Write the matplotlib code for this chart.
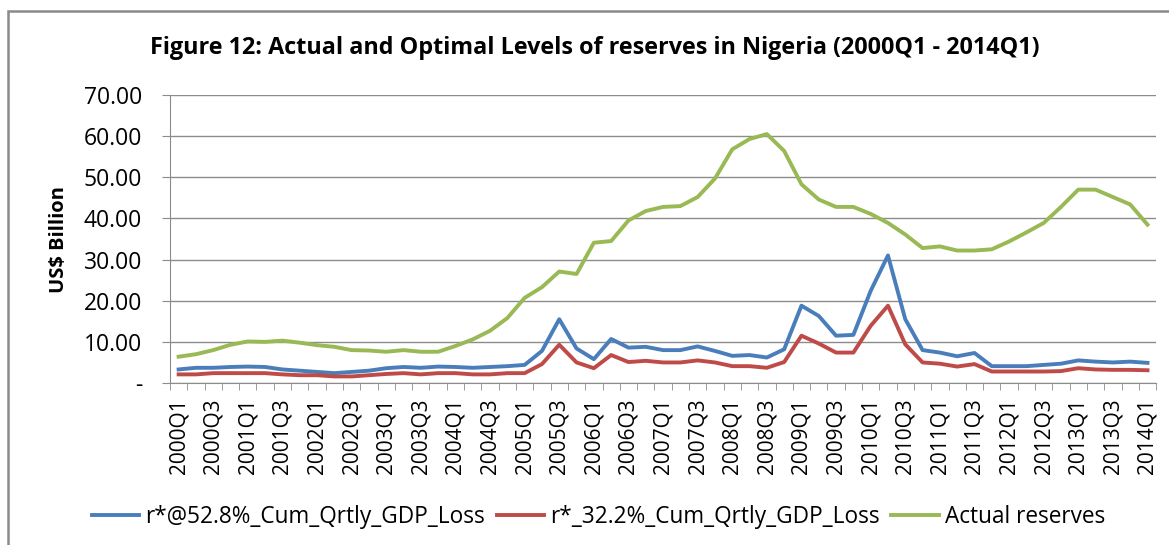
import matplotlib.pyplot as plt
import numpy as np
from matplotlib.patches import Rectangle
from matplotlib.ticker import FixedLocator, FuncFormatter

plt.rcParams['font.family'] = ['Open Sans', 'DejaVu Sans']

# --- data (US$ billion) ---
quarters = [f"{y}Q{q}" for y in range(2000, 2015) for q in range(1, 5)][:57]

r_528 = [3.3, 3.7, 3.7, 3.9, 4.0, 3.9, 3.3, 3.0, 2.7, 2.4,
         2.7, 3.0, 3.6, 3.9, 3.7, 4.0, 3.9, 3.7, 3.9, 4.1,
         4.4, 7.8, 15.5, 8.4, 5.8, 10.7, 8.6, 8.8, 8.0, 8.0,
         8.9, 7.8, 6.6, 6.8, 6.2, 8.2, 18.8, 16.3, 11.5, 11.7,
         22.4, 31.0, 15.5, 8.0, 7.4, 6.5, 7.3, 4.1, 4.1, 4.1,
         4.4, 4.7, 5.5, 5.2, 5.0, 5.2, 4.9]

r_322 = [2.1, 2.1, 2.4, 2.4, 2.4, 2.4, 2.1, 1.9, 1.9, 1.6,
         1.6, 1.9, 2.2, 2.4, 2.1, 2.4, 2.4, 2.1, 2.1, 2.4,
         2.4, 4.6, 9.3, 5.0, 3.6, 6.8, 5.1, 5.4, 5.0, 5.0,
         5.5, 5.0, 4.1, 4.1, 3.7, 5.1, 11.5, 9.6, 7.4, 7.4,
         13.9, 18.8, 9.4, 5.0, 4.7, 4.0, 4.6, 2.8, 2.8, 2.8,
         2.8, 2.9, 3.6, 3.3, 3.2, 3.2, 3.1]

actual = [6.4, 7.0, 8.0, 9.3, 10.1, 10.0, 10.3, 9.8, 9.2, 8.8,
          8.0, 7.9, 7.6, 8.0, 7.6, 7.6, 9.0, 10.6, 12.7, 15.8,
          20.7, 23.3, 27.1, 26.5, 34.1, 34.5, 39.5, 41.8, 42.8, 43.0,
          45.2, 49.7, 56.8, 59.3, 60.5, 56.4, 48.3, 44.6, 42.8, 42.8,
          41.1, 38.9, 36.1, 32.8, 33.2, 32.2, 32.2, 32.5, 34.4, 36.6,
          38.9, 42.8, 47.0, 47.0, 45.2, 43.4, 38.5]

series_names = ["r*@52.8%_Cum_Qrtly_GDP_Loss", "r*_32.2%_Cum_Qrtly_GDP_Loss",
                "Actual reserves"]
colors = ["#4A7EBB", "#BE4B48", "#98B954"]

fig = plt.figure(figsize=(11.69, 5.45), dpi=100)
ax = fig.add_axes([0.1454, 0.2972, 0.8436, 0.5285])

x = np.arange(len(quarters))
for vals, name, c in zip([r_528, r_322, actual], series_names, colors):
    ax.plot(x, vals, color=c, lw=2.8, label=name, solid_joinstyle="round")

ax.set_ylim(0, 70)
ax.set_xlim(-0.5, len(quarters) - 0.5)
ax.set_yticks(np.arange(0, 71, 10))
ax.yaxis.set_major_formatter(FuncFormatter(lambda v, p: "-" if v == 0 else f"{v:.2f}"))
ax.grid(axis="y", color="#8c8c8c", lw=1)
ax.set_axisbelow(True)

# category labels every 2nd quarter, tick marks between categories
ax.set_xticks(x[::2])
ax.set_xticklabels(quarters[::2], rotation=90, fontsize=15)
ax.xaxis.set_minor_locator(FixedLocator(np.arange(-0.5, len(quarters), 1)))
ax.tick_params(axis="x", which="major", length=0, pad=11)
ax.tick_params(axis="x", which="minor", length=5, color="#8c8c8c", direction="out")
ax.tick_params(axis="y", length=6, color="#8c8c8c", labelsize=16.5, pad=14)

for s in ["top", "right"]:
    ax.spines[s].set_visible(False)
for s in ["left", "bottom"]:
    ax.spines[s].set_color("#8c8c8c")

ax.set_ylabel("US$ Billion", fontsize=14.5, fontweight="bold")
ax.yaxis.set_label_coords(-0.102, 0.5)

fig.text(0.509, 0.912, "Figure 12: Actual and Optimal Levels of reserves in Nigeria (2000Q1 - 2014Q1)",
         ha="center", va="center", fontsize=16.8, fontweight="bold")

fig.legend(loc="center", bbox_to_anchor=(0.512, 0.052), ncol=3, frameon=False,
           fontsize=16.3, handlelength=2.1, columnspacing=0.5, handletextpad=0.28)

# outer chart frame
fig.add_artist(Rectangle((8 / 1169, -0.05), 1.2, (545 - 11) / 545 + 0.05,
                         transform=fig.transFigure, fill=False,
                         edgecolor="#8a8a8a", lw=1.8))

fig.savefig("out.png", dpi=100)
